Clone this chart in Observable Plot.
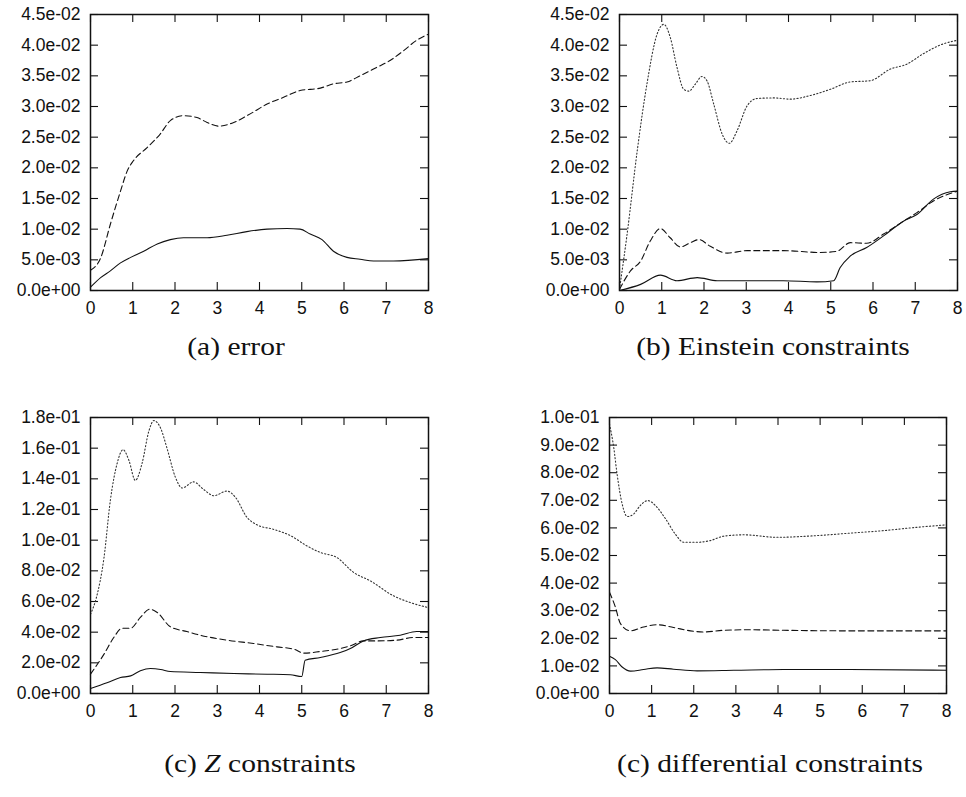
<!DOCTYPE html>
<html>
<head>
<meta charset="utf-8">
<script src="https://cdn.jsdelivr.net/npm/d3@7"></script>
<script src="https://cdn.jsdelivr.net/npm/@observablehq/plot@0.6"></script>
<style>
  html, body { margin: 0; padding: 0; background: #fff; }
  #wrap { position: relative; width: 966px; height: 797px; overflow: hidden; background: #fff; }
  .panel { position: absolute; }
  .cap { position: absolute; font-family: "Liberation Serif", "Times New Roman", serif; font-size: 25px; line-height: 1; white-space: nowrap; color: #111; transform: translateX(-50%) scaleX(1.18); transform-origin: center; }
</style>
</head>
<body>
<div id="wrap"></div>
<script>
// ---------- tick values ----------
const xTicks = [0, 1, 2, 3, 4, 5, 6, 7, 8];
const yTicksA = [0, 0.005, 0.01, 0.015, 0.02, 0.025, 0.03, 0.035, 0.04, 0.045];
const yTicksB = [0, 0.005, 0.01, 0.015, 0.02, 0.025, 0.03, 0.035, 0.04, 0.045];
const yTicksC = [0, 0.02, 0.04, 0.06, 0.08, 0.10, 0.12, 0.14, 0.16, 0.18];
const yTicksD = [0, 0.01, 0.02, 0.03, 0.04, 0.05, 0.06, 0.07, 0.08, 0.09, 0.10];

// ---------- captions ----------
const captions = ["(a) error", "(b) Einstein constraints", "(c) Z constraints", "(c) differential constraints"];

// ---------- (a) error ----------
const aSolidT = [0, 0.24, 0.47, 0.71, 0.95, 1.26, 1.58, 1.89, 2.2, 2.76, 3.23, 3.7, 4.18, 4.65, 4.96, 5.2, 5.48, 5.75, 6.07, 6.38, 6.7, 7.17, 8];
const aSolidV = [0.00054, 0.0021, 0.0032, 0.0045, 0.0054, 0.0064, 0.0076, 0.0083, 0.0086, 0.0086, 0.0090, 0.0096, 0.0100, 0.0101, 0.0100, 0.0092, 0.0083, 0.0064, 0.0054, 0.0051, 0.0048, 0.0048, 0.0052];
const aDashT = [0, 0.24, 0.47, 0.71, 0.87, 1.02, 1.34, 1.65, 1.89, 2.2, 2.52, 2.76, 3.03, 3.39, 3.78, 4.18, 4.57, 4.96, 5.44, 5.75, 6.07, 6.38, 6.78, 7.09, 7.41, 7.72, 8];
const aDashV = [0.0033, 0.0053, 0.0108, 0.0162, 0.0195, 0.0212, 0.0233, 0.0255, 0.0277, 0.0285, 0.0282, 0.0274, 0.0268, 0.0274, 0.0288, 0.0304, 0.0315, 0.0326, 0.0330, 0.0337, 0.0340, 0.0350, 0.0364, 0.0375, 0.0391, 0.0408, 0.0418];

// ---------- (b) Einstein constraints ----------
const bSolidT = [0, 0.5, 0.97, 1.36, 1.84, 2.31, 3.1, 3.88, 4.67, 5.07, 5.22, 5.46, 5.85, 6.25, 6.72, 7.04, 7.43, 7.83, 8];
const bSolidV = [0, 0.0010, 0.0025, 0.0016, 0.0021, 0.0016, 0.0016, 0.0016, 0.0014, 0.0016, 0.0037, 0.0056, 0.0070, 0.0089, 0.0113, 0.0124, 0.0149, 0.0161, 0.0162];
const bDashT = [0, 0.26, 0.5, 0.73, 0.97, 1.2, 1.44, 1.68, 1.88, 2.15, 2.55, 3.02, 3.88, 4.75, 5.15, 5.46, 5.85, 6.25, 6.72, 7.04, 7.43, 8];
const bDashV = [0.0002, 0.0032, 0.0048, 0.0081, 0.0101, 0.0086, 0.0071, 0.0078, 0.0083, 0.0072, 0.0061, 0.0065, 0.0065, 0.0062, 0.0064, 0.0078, 0.0077, 0.0092, 0.0113, 0.0127, 0.0146, 0.0162];
const bDotT = [0, 0.18, 0.42, 0.65, 0.89, 1.05, 1.2, 1.36, 1.52, 1.64, 1.8, 1.95, 2.07, 2.23, 2.43, 2.6, 2.78, 3.02, 3.25, 3.65, 4.04, 4.52, 4.99, 5.46, 5.93, 6.41, 6.8, 7.19, 7.66, 8];
const bDotV = [0.0002, 0.0092, 0.0228, 0.0337, 0.0418, 0.0434, 0.0413, 0.0364, 0.0328, 0.0325, 0.0337, 0.0349, 0.0342, 0.0304, 0.0255, 0.0240, 0.0260, 0.0301, 0.0313, 0.0314, 0.0312, 0.0318, 0.0328, 0.0340, 0.0342, 0.0361, 0.0369, 0.0386, 0.0402, 0.0408];

// ---------- (c) Z constraints ----------
const cSolidT = [0, 0.39, 0.71, 0.95, 1.18, 1.42, 1.66, 1.89, 2.6, 3.39, 4.18, 4.73, 5.0, 5.08, 5.44, 5.91, 6.15, 6.46, 6.86, 7.33, 7.72, 8];
const cSolidV = [0.0033, 0.0070, 0.0104, 0.0115, 0.0148, 0.0163, 0.0157, 0.0143, 0.0137, 0.0130, 0.0126, 0.0122, 0.0111, 0.0217, 0.0235, 0.0267, 0.0293, 0.0343, 0.0365, 0.0380, 0.0404, 0.0404];
const cDashT = [0, 0.32, 0.55, 0.75, 0.95, 1.18, 1.4, 1.58, 1.89, 2.28, 2.6, 3.23, 3.86, 4.41, 4.81, 5.06, 5.44, 5.91, 6.15, 6.46, 6.78, 7.25, 7.64, 8];
const cDashV = [0.0126, 0.0257, 0.0365, 0.0426, 0.0426, 0.0496, 0.0550, 0.0528, 0.0435, 0.0404, 0.0380, 0.0348, 0.0326, 0.0304, 0.0289, 0.0263, 0.0274, 0.0293, 0.0311, 0.0343, 0.0343, 0.0348, 0.0365, 0.0365];
const cDotT = [0, 0.14, 0.32, 0.47, 0.63, 0.77, 0.91, 1.06, 1.22, 1.38, 1.5, 1.66, 1.81, 2.01, 2.17, 2.44, 2.68, 2.92, 3.23, 3.43, 3.7, 3.94, 4.34, 4.73, 5.12, 5.44, 5.83, 6.23, 6.62, 7.17, 7.57, 8];
const cDotV = [0.0517, 0.0626, 0.0887, 0.126, 0.150, 0.159, 0.152, 0.139, 0.150, 0.171, 0.178, 0.173, 0.160, 0.141, 0.134, 0.138, 0.133, 0.129, 0.132, 0.128, 0.115, 0.110, 0.107, 0.103, 0.0963, 0.0920, 0.0887, 0.0789, 0.0735, 0.0637, 0.0593, 0.0560];

// ---------- (d) differential constraints ----------
const dSolidT = [0, 0.14, 0.3, 0.5, 0.81, 1.13, 1.52, 2.08, 2.95, 4.13, 5.71, 8];
const dSolidV = [0.0135, 0.0123, 0.0096, 0.0081, 0.0087, 0.0093, 0.0088, 0.0082, 0.0084, 0.0087, 0.0087, 0.0084];
const dDashT = [0, 0.14, 0.26, 0.5, 0.81, 1.13, 1.52, 1.92, 2.24, 2.71, 3.34, 4.13, 5.71, 8];
const dDashV = [0.0367, 0.0313, 0.0253, 0.0227, 0.0241, 0.0249, 0.0239, 0.0227, 0.0223, 0.0229, 0.0231, 0.0229, 0.0227, 0.0227];
const dDotT = [0, 0.1, 0.18, 0.3, 0.42, 0.58, 0.73, 0.91, 1.09, 1.33, 1.56, 1.76, 2.08, 2.39, 2.71, 3.18, 3.97, 4.91, 5.71, 6.5, 7.29, 8];
const dDotV = [0.0976, 0.0892, 0.0795, 0.0687, 0.0641, 0.0651, 0.0681, 0.0699, 0.0681, 0.0633, 0.0578, 0.0548, 0.0548, 0.0554, 0.0570, 0.0575, 0.0566, 0.0572, 0.0581, 0.0590, 0.0602, 0.0611];

// ---------- helpers ----------
const rows = (t, v) => t.map((x, i) => ({t: x, v: v[i]}));
const fmt = d => {
  const s = (+d).toExponential(1);
  return s.replace(/e([+-])(\d)$/, "e$10$2");
};
const FONT = "'Liberation Sans', Arial, Helvetica, sans-serif";
const FS = 17.5;
const STYLES = {
  solid: {stroke: "#111", strokeWidth: 1.1},
  dash:  {stroke: "#111", strokeWidth: 1.1, strokeDasharray: "6,3.5"},
  dot:   {stroke: "#333", strokeWidth: 1.1, strokeDasharray: "1.2,2.2"}
};

function panel({left, top, width, height, mL, mR, mT, mB, yTicks, ymax, series}) {
  const innerW = width - mL - mR;
  const innerH = height - mT - mB;
  const marks = [
    Plot.axisX({ticks: xTicks, tickSize: 0, tickPadding: 11, tickFormat: d => String(d), label: null, fontFamily: FONT, fontSize: FS, fill: "#111"}),
    Plot.axisY({ticks: yTicks, tickSize: 0, tickPadding: 10, tickFormat: fmt, label: null, fontFamily: FONT, fontSize: FS, fill: "#111"}),
    Plot.tickX(xTicks, {x: d => d, insetTop: innerH - 8, stroke: "#111", strokeWidth: 1.1}),
    Plot.tickX(xTicks, {x: d => d, insetBottom: innerH - 8, stroke: "#111", strokeWidth: 1.1}),
    Plot.tickY(yTicks, {y: d => d, insetRight: innerW - 8, stroke: "#111", strokeWidth: 1.1}),
    Plot.tickY(yTicks, {y: d => d, insetLeft: innerW - 8, stroke: "#111", strokeWidth: 1.1})
  ];
  for (const s of series) {
    marks.push(Plot.line(rows(s.t, s.v), {x: "t", y: "v", curve: "monotone-x", ...STYLES[s.style]}));
  }
  marks.push(Plot.frame({stroke: "#111", strokeWidth: 1.5}));
  const svg = Plot.plot({
    width, height,
    marginLeft: mL, marginRight: mR, marginTop: mT, marginBottom: mB,
    style: {fontFamily: FONT, fontSize: FS + "px", color: "#111", background: "transparent", overflow: "visible"},
    x: {domain: [0, 8], label: null},
    y: {domain: [0, ymax], label: null},
    marks
  });
  svg.classList.add("panel");
  svg.style.left = left + "px";
  svg.style.top = top + "px";
  document.getElementById("wrap").appendChild(svg);
}

panel({left: 0, top: 0, width: 483, height: 330, mL: 90, mR: 55, mT: 14, mB: 40, yTicks: yTicksA, ymax: 0.045,
  series: [{t: aSolidT, v: aSolidV, style: "solid"}, {t: aDashT, v: aDashV, style: "dash"}]});
panel({left: 483, top: 0, width: 483, height: 330, mL: 136, mR: 9, mT: 14, mB: 40, yTicks: yTicksB, ymax: 0.045,
  series: [{t: bSolidT, v: bSolidV, style: "solid"}, {t: bDashT, v: bDashV, style: "dash"}, {t: bDotT, v: bDotV, style: "dot"}]});
panel({left: 0, top: 390, width: 483, height: 340, mL: 90, mR: 55, mT: 27, mB: 37, yTicks: yTicksC, ymax: 0.18,
  series: [{t: cSolidT, v: cSolidV, style: "solid"}, {t: cDashT, v: cDashV, style: "dash"}, {t: cDotT, v: cDotV, style: "dot"}]});
panel({left: 483, top: 390, width: 483, height: 340, mL: 126, mR: 20, mT: 27, mB: 37, yTicks: yTicksD, ymax: 0.10,
  series: [{t: dSolidT, v: dSolidV, style: "solid"}, {t: dDashT, v: dDashV, style: "dash"}, {t: dDotT, v: dDotV, style: "dot"}]});

// captions
const capPos = [[236, 334], [773, 334], [260, 751], [770, 751]];
captions.forEach((c, i) => {
  const d = document.createElement("div");
  d.className = "cap";
  d.style.left = capPos[i][0] + "px";
  d.style.top = capPos[i][1] + "px";
  if (i === 2) {
    d.innerHTML = "(c) <i>Z</i> constraints";
  } else {
    d.textContent = c;
  }
  document.getElementById("wrap").appendChild(d);
});
</script>
</body>
</html>
